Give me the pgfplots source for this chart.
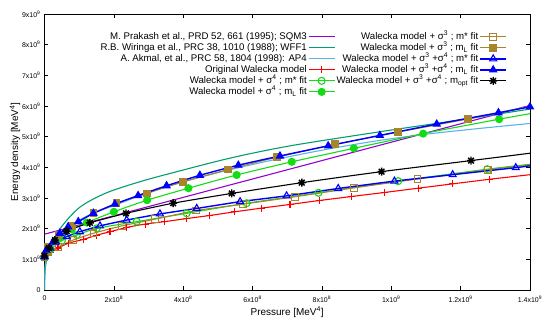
\documentclass[border=0pt]{standalone}
\usepackage{pgfplots}
\pgfplotsset{compat=1.18}
\usepackage{fontspec}
\setmainfont{Liberation Sans}
\definecolor{cpurple}{HTML}{9400D3}
\definecolor{cteal}{HTML}{009E73}
\definecolor{clblue}{HTML}{56B4E9}
\definecolor{cred}{HTML}{FF0000}
\definecolor{cgreen}{HTML}{14DC14}
\definecolor{cbrown}{HTML}{A8842C}
\definecolor{cblue}{HTML}{0000FF}
\pgfdeclareplotmark{pstar}{%
  \pgfpathmoveto{\pgfqpoint{-\pgfplotmarksize}{0pt}}\pgfpathlineto{\pgfqpoint{\pgfplotmarksize}{0pt}}%
  \pgfpathmoveto{\pgfqpoint{0pt}{-\pgfplotmarksize}}\pgfpathlineto{\pgfqpoint{0pt}{\pgfplotmarksize}}%
  \pgfpathmoveto{\pgfqpoint{-.707\pgfplotmarksize}{-.707\pgfplotmarksize}}\pgfpathlineto{\pgfqpoint{.707\pgfplotmarksize}{.707\pgfplotmarksize}}%
  \pgfpathmoveto{\pgfqpoint{-.707\pgfplotmarksize}{.707\pgfplotmarksize}}\pgfpathlineto{\pgfqpoint{.707\pgfplotmarksize}{-.707\pgfplotmarksize}}%
  \pgfusepathqstroke}
\begin{document}
\begin{tikzpicture}
\begin{axis}[
  at={(0,0)}, anchor=south west,
  scale only axis, width=485.5bp, height=276bp,
  xmin=0, xmax=1.4e9, ymin=0, ymax=9e9,
  xtick={0,2e8,4e8,6e8,8e8,1e9,1.2e9,1.4e9},
  xticklabels={0,2x10\textsuperscript{8},4x10\textsuperscript{8},6x10\textsuperscript{8},8x10\textsuperscript{8},1x10\textsuperscript{9},1.2x10\textsuperscript{9},1.4x10\textsuperscript{9}},
  ytick={0,1e9,2e9,3e9,4e9,5e9,6e9,7e9,8e9,9e9},
  yticklabels={0,1x10\textsuperscript{9},2x10\textsuperscript{9},3x10\textsuperscript{9},4x10\textsuperscript{9},5x10\textsuperscript{9},6x10\textsuperscript{9},7x10\textsuperscript{9},8x10\textsuperscript{9},9x10\textsuperscript{9}},
  scaled ticks=false,
  tick align=inside, major tick length=4bp,
  tick style={black, line width=0.6bp},
  axis line style={black, line width=0.8bp},
  tick label style={font=\fontsize{7}{8}\selectfont},
  xticklabel style={yshift=-2.5bp},
  yticklabel style={xshift=-0.5bp},
  xlabel={Pressure [MeV\textsuperscript{4}]},
  ylabel={Energy density [MeV\textsuperscript{4}]},
  label style={font=\fontsize{9.7}{11}\selectfont},
  every axis x label/.style={at={(axis description cs:0.5,-0.0797)}, anchor=center},
  every axis y label/.style={at={(axis description cs:-0.0608,0.5)}, anchor=center, rotate=90},
  legend columns=6, transpose legend,
  legend cell align=right, legend plot pos=right,
  legend style={draw=none, fill=none, at={(0.959,0.945)}, anchor=north east,
    font=\fontsize{9.7}{11}\selectfont,
    nodes={inner sep=1.3bp, text height=6.9bp, text depth=1.5bp}},
  legend image code/.code={\draw (0bp,0bp) -- (26bp,0bp); \draw[only marks] plot coordinates {(13bp,0bp)};},
  every axis plot/.append style={line width=1.1bp, mark options={solid}},
]
% SQM3
\addplot[cpurple, no marks] coordinates {(0,1.82e9) (1.4e9,6.02e9)};
\addlegendentry{M. Prakash et al., PRD 52, 661 (1995); SQM3}
% WFF1
\addplot[cteal, no marks, smooth, tension=0.5] coordinates {
(0,0) (1e6,0.45e9) (4e6,0.85e9) (1.5e7,1.30e9) (4.5e7,2.0e9) (1.02e8,2.70e9) (1.79e8,3.17e9) (2.75e8,3.53e9) (3.62e8,3.80e9) (5.35e8,4.30e9) (7.08e8,4.70e9) (9.67e8,5.16e9) (1.2e9,5.55e9) (1.4e9,5.9e9)};
\addlegendentry{R.B. Wiringa et al., PRC 38, 1010 (1988); WFF1}
% AP4
\addplot[clblue, no marks, smooth, tension=0.5] coordinates {
(0,0) (2e5,0.35e9) (1e6,0.65e9) (3e6,0.9e9) (8e6,1.15e9) (2e7,1.5e9) (4.5e7,1.85e9) (8e7,2.15e9) (1.4e8,2.5e9) (2.0e8,2.75e9) (2.7e8,3.05e9) (3.5e8,3.36e9) (4.5e8,3.68e9) (5.6e8,3.99e9) (6.8e8,4.29e9) (8.2e8,4.6e9) (9.67e8,4.88e9) (1.1e9,5.08e9) (1.256e9,5.27e9) (1.4e9,5.43e9)};
\addlegendentry{A. Akmal, et al., PRC 58, 1804 (1998): AP4}
% Original Walecka
\addplot[cred, mark=+, mark size=3.5bp, smooth, tension=0.4, mark indices={1,...,21}] coordinates {
(0,1.08e9) (1.6e7,1.21e9) (3.9e7,1.37e9) (6.8e7,1.52e9) (1.12e8,1.65e9) (1.51e8,1.79e9) (1.89e8,1.90e9) (2.37e8,2.04e9) (2.90e8,2.15e9) (3.47e8,2.23e9) (4.10e8,2.33e9) (4.77e8,2.43e9) (5.49e8,2.55e9) (6.26e8,2.67e9) (7.08e8,2.79e9) (7.94e8,2.92e9) (8.86e8,3.05e9) (9.80e8,3.18e9) (1.078e9,3.32e9) (1.176e9,3.46e9) (1.283e9,3.61e9) (1.4e9,3.76e9)};
\addlegendentry{Original Walecka model}
% sigma4 m*
\addplot[cgreen, mark=o, mark size=3.5bp, smooth, tension=0.4, mark indices={1,...,11}] coordinates {
(0,1.08e9) (1.6e7,1.30e9) (5.0e7,1.61e9) (9.3e7,1.79e9) (1.51e8,2.01e9) (2.66e8,2.23e9) (4.10e8,2.50e9) (5.83e8,2.83e9) (7.90e8,3.17e9) (1.020e9,3.55e9) (1.277e9,3.94e9) (1.4e9,4.10e9)};
\addlegendentry{Walecka model + σ\textsuperscript{4} ; m* fit}
% sigma4 mL
\addplot[cgreen, mark=*, mark size=3.5bp, smooth, tension=0.4, mark indices={1,...,13}] coordinates {
(0,1.08e9) (1.6e7,1.37e9) (4.5e7,1.70e9) (7.9e7,1.98e9) (1.22e8,2.20e9) (2.0e8,2.55e9) (2.96e8,2.93e9) (4.15e8,3.32e9) (5.54e8,3.75e9) (7.13e8,4.18e9) (8.92e8,4.62e9) (1.092e9,5.10e9) (1.311e9,5.57e9) (1.4e9,5.75e9)};
\addlegendentry{Walecka model + σ\textsuperscript{4} ; m\textsubscript{L} fit}
% sigma3 m*
\addplot[cbrown, mark=square, mark size=3.3bp, smooth, tension=0.4, mark indices={1,...,13}] coordinates {
(0,1.08e9) (1.1e7,1.25e9) (4.0e7,1.41e9) (8.3e7,1.63e9) (1.41e8,1.85e9) (2.23e8,2.09e9) (3.19e8,2.31e9) (4.37e8,2.59e9) (5.73e8,2.80e9) (7.22e8,3.04e9) (8.92e8,3.33e9) (1.076e9,3.62e9) (1.278e9,3.92e9) (1.4e9,4.08e9)};
\addlegendentry{Walecka model + σ\textsuperscript{3} ; m* fit}
% sigma3 mL
\addplot[cbrown, mark=square*, mark size=3.3bp, smooth, tension=0.4, mark indices={1,...,13}] coordinates {
(0,1.11e9) (1.1e7,1.41e9) (4.0e7,1.79e9) (7.84e7,2.09e9) (1.41e8,2.50e9) (2.08e8,2.83e9) (2.95e8,3.15e9) (4.0e8,3.53e9) (5.30e8,3.93e9) (6.70e8,4.33e9) (8.38e8,4.75e9) (1.02e9,5.15e9) (1.222e9,5.58e9) (1.4e9,5.99e9)};
\addlegendentry{Walecka model + σ\textsuperscript{3} ; m\textsubscript{L} fit}
% sigma3+sigma4 m*
\addplot[cblue, line width=1.4bp, mark=triangle, mark size=4bp, mark options={line width=1.1bp}, smooth, tension=0.4, mark indices={1,...,15}] coordinates {
(0,1.08e9) (1.6e7,1.37e9) (3.3e7,1.56e9) (6.4e7,1.74e9) (1.02e8,1.90e9) (1.60e8,2.09e9) (2.37e8,2.28e9) (3.33e8,2.48e9) (4.39e8,2.66e9) (5.64e8,2.88e9) (6.98e8,3.07e9) (8.47e8,3.31e9) (1.009e9,3.55e9) (1.177e9,3.76e9) (1.359e9,3.99e9) (1.4e9,4.05e9)};
\addlegendentry{Walecka model + σ\textsuperscript{3} +σ\textsuperscript{4} ; m* fit}
% sigma3+sigma4 mL
\addplot[cblue, line width=1.4bp, mark=triangle*, mark size=4bp, mark options={line width=1.1bp}, smooth, tension=0.4, mark indices={1,...,18}] coordinates {
(0,1.1e9) (5e6,1.30e9) (2.45e7,1.57e9) (4.4e7,1.85e9) (6.8e7,2.06e9) (9.75e7,2.23e9) (1.41e8,2.50e9) (2.03e8,2.80e9) (2.70e8,3.08e9) (3.52e8,3.40e9) (4.48e8,3.74e9) (5.59e8,4.07e9) (6.79e8,4.37e9) (8.18e8,4.70e9) (9.67e8,5.04e9) (1.131e9,5.41e9) (1.309e9,5.78e9) (1.4e9,5.97e9)};
\addlegendentry{Walecka model + σ\textsuperscript{3} +σ\textsuperscript{4} ; m\textsubscript{L} fit}
% sigma3+sigma4 mopt
\addplot[black, mark=pstar, mark size=4bp, mark options={line width=1.4bp}, smooth, tension=0.4, mark indices={1,...,11}] coordinates {
(0,1.11e9) (1.3e7,1.37e9) (3.0e7,1.63e9) (6.4e7,1.92e9) (1.31e8,2.19e9) (2.35e8,2.50e9) (3.71e8,2.83e9) (5.40e8,3.15e9) (7.42e8,3.50e9) (9.72e8,3.86e9) (1.230e9,4.22e9) (1.4e9,4.46e9)};
\addlegendentry{Walecka model + σ\textsuperscript{3} +σ\textsuperscript{4} ; m\textsubscript{opt} fit}
\end{axis}
\pgfresetboundingbox
\path (-44.5bp,-34bp) rectangle (505.5bp,290bp);
\end{tikzpicture}
\end{document}
